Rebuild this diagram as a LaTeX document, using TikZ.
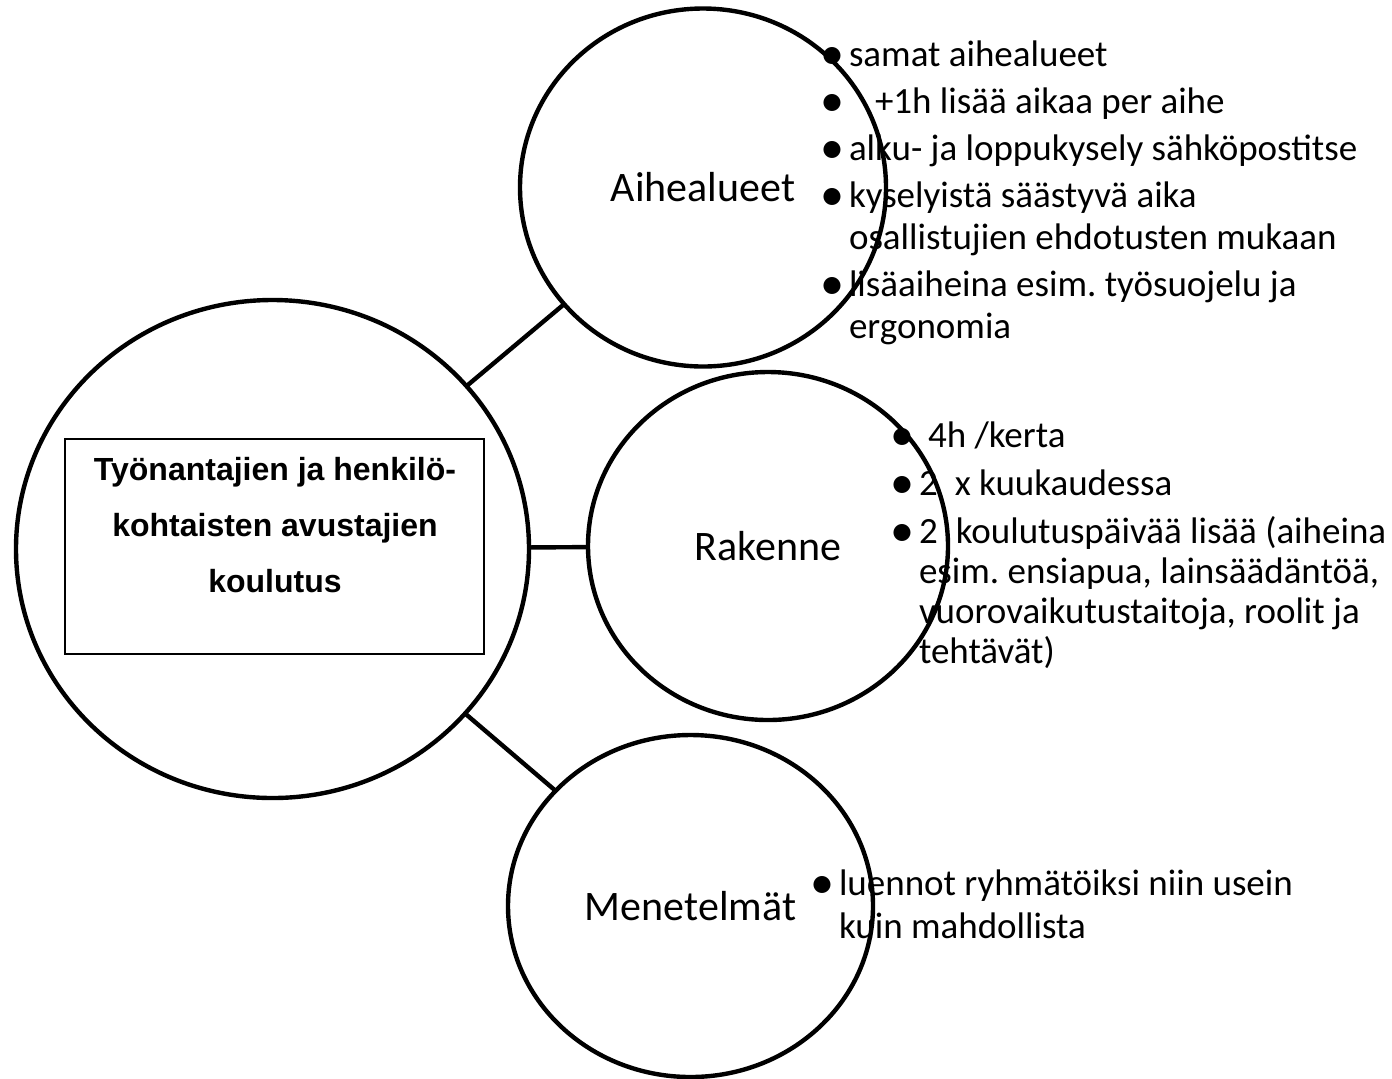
\documentclass[tikz,border=0pt]{standalone}
\usepackage{fontspec}
\setmainfont{Carlito}
\newfontfamily\titlefont{Liberation Sans}
\usetikzlibrary{shapes.geometric}
\newcommand\blt{\makebox[16.5pt]{\raisebox{-1.8pt}{\scalebox{1.3}{•}}}}
\frenchspacing
\begin{document}
\frenchspacing
\begin{tikzpicture}[x=0.5pt,y=-0.5pt,
  bubble/.style={ellipse, draw, line width=2.2pt, inner sep=0pt, outer sep=0pt,
    font=\fontsize{21}{25}\selectfont},
  link/.style={line width=2.2pt},
  listtext/.style={anchor=base west, inner sep=0pt, outer sep=0pt, align=left},
  frame/.style={rectangle, draw, line width=0.8pt, inner sep=0pt},
]
\useasboundingbox (0,0) rectangle (1392,1078);

% circles
\node[bubble, minimum width=256.5pt, minimum height=249pt] (big) at (272.5,549) {};
\node[bubble, minimum width=183pt, minimum height=179pt] (aihe) at (703,187.5) {Aihealueet};
\node[bubble, minimum width=180pt, minimum height=174pt] (rak) at (768,546) {Rakenne};
\node[bubble, minimum width=182.5pt, minimum height=171pt] (men) at (690.5,906) {Menetelmät};

% connectors
\draw[link] (big) -- (aihe);
\draw[link] (big) -- (rak);
\draw[link] (big) -- (men);

% title box
\node[frame, minimum width=209.5pt, minimum height=107.5pt] (box) at (274.5,546.5) {};
\node[anchor=base, inner sep=0pt, font=\titlefont\bfseries\fontsize{16}{28}\selectfont] (title) at (275,480)
  {\begin{tabular}[t]{@{}c@{}}Työnantajien ja henkilö-\\kohtaisten avustajien\\koulutus\end{tabular}};

% lists
\node[listtext, font=\fontsize{18.5}{21}\selectfont] (listA) at (816,66)
  {\begin{tabular}[t]{@{}l@{}l@{}}
  \blt & samat aihealueet\\[2.5pt]
  \blt & \hspace{13pt}+1h lisää aikaa per aihe\\[2.5pt]
  \blt & alku- ja loppukysely sähköpostitse\\[2.5pt]
  \blt & kyselyistä säästyvä aika\\
       & osallistujien ehdotusten mukaan\\[2.5pt]
  \blt & lisäaiheina esim. työsuojelu ja\\
       & ergonomia
  \end{tabular}};

\node[listtext, font=\fontsize{18.5}{20}\selectfont] (listR) at (886,447)
  {\begin{tabular}[t]{@{}l@{}l@{}}
  \blt & \hspace{4.5pt}4h /kerta\\[4pt]
  \blt & 2\hspace{8.5pt}x kuukaudessa\\[4pt]
  \blt & 2\hspace{9pt}koulutuspäivää lisää (aiheina\\
       & esim. ensiapua, lainsäädäntöä,\\
       & vuorovaikutustaitoja, roolit ja\\
       & tehtävät)
  \end{tabular}};

\node[listtext, font=\fontsize{18.5}{21.5}\selectfont] (listM) at (806,895)
  {\begin{tabular}[t]{@{}l@{}l@{}}
  \blt & luennot ryhmätöiksi niin usein\\
       & kuin mahdollista
  \end{tabular}};
\end{tikzpicture}
\end{document}
